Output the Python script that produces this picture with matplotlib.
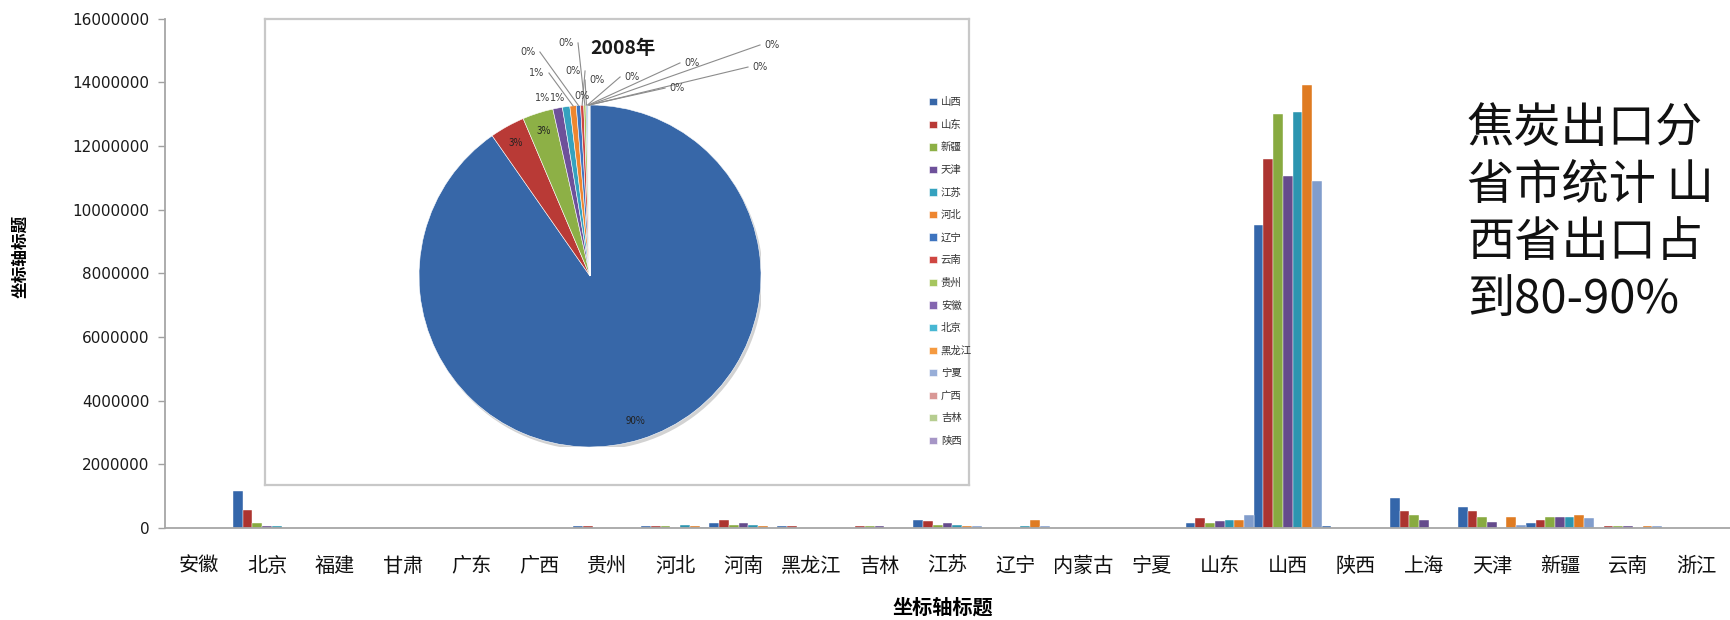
"""
焦炭出口分省市统计: clustered columns per province plus a 2008 pie inset.
"""

import matplotlib
matplotlib.use("Agg")
import matplotlib.pyplot as plt
import numpy as np
from matplotlib.patches import Circle

plt.rcParams["font.family"] = ["Noto Sans CJK SC", "DejaVu Sans"]

# ---------------------------------------------------------------------------
# Data
# ---------------------------------------------------------------------------

provinces = ["安徽", "北京", "福建", "甘肃", "广东", "广西", "贵州", "河北",
             "河南", "黑龙江", "吉林", "江苏", "辽宁", "内蒙古", "宁夏", "山东",
             "山西", "陕西", "上海", "天津", "新疆", "云南", "浙江"]

# seven series (one per year), values in tonnes, in province order above
series_1 = [0, 1160000, 0, 0, 0, 0, 50000, 50000, 160000, 50000, 0, 260000,
            0, 0, 0, 150000, 9530000, 50000, 940000, 670000, 150000, 0, 0]
series_2 = [0, 550000, 0, 0, 0, 0, 50000, 50000, 260000, 50000, 50000, 210000,
            0, 0, 0, 310000, 11590000, 0, 530000, 530000, 260000, 50000, 0]
series_3 = [0, 160000, 0, 0, 0, 0, 0, 50000, 100000, 0, 50000, 100000,
            0, 0, 0, 150000, 13000000, 0, 410000, 360000, 360000, 50000, 0]
series_4 = [0, 50000, 0, 0, 0, 0, 0, 0, 160000, 0, 50000, 150000,
            0, 0, 0, 210000, 11050000, 0, 250000, 200000, 360000, 50000, 0]
series_5 = [0, 50000, 0, 0, 0, 0, 0, 100000, 100000, 0, 0, 100000,
            50000, 0, 0, 260000, 13070000, 0, 0, 0, 360000, 0, 0]
series_6 = [0, 0, 0, 0, 0, 0, 0, 50000, 50000, 0, 0, 50000,
            260000, 0, 0, 260000, 13910000, 0, 0, 360000, 410000, 50000, 0]
series_7 = [0, 0, 0, 0, 0, 0, 0, 30000, 0, 0, 0, 50000,
            50000, 0, 0, 410000, 10890000, 0, 0, 100000, 310000, 50000, 0]
all_series = [series_1, series_2, series_3, series_4, series_5, series_6, series_7]
bar_colors = ["#3466AA", "#AC3430", "#88AA40", "#654B8C", "#2C95B0", "#DF7B22", "#819DCC"]

yticks = list(range(0, 16000001, 2000000))

# 2008 pie (percent share)
pie_labels = ["山西", "山东", "新疆", "天津", "江苏", "河北", "辽宁", "云南",
              "贵州", "安徽", "北京", "黑龙江", "宁夏", "广西", "吉林", "陕西"]
pie_values = [90.2, 3.3, 2.9, 0.9, 0.7, 0.6, 0.4, 0.3,
              0.2, 0.1, 0.1, 0.05, 0.05, 0.03, 0.03, 0.02]
pie_colors = ["#3767A8", "#B93A36", "#8DB046", "#6E519A", "#35A2BF", "#EE8630",
              "#3E74BF", "#CF4641", "#A6C65F", "#8466B0", "#47B7D3", "#F59A40",
              "#98AED8", "#D99896", "#B6CD90", "#A696C6"]

# where Excel pushed the labels of the thin slices (pie radius = 1)
small_label_pos = [(-0.275, 1.041), (-0.190, 1.041), (-0.310, 1.187), (-0.363, 1.310),
                   (-0.099, 1.199), (-0.140, 1.363), (0.041, 1.146), (0.246, 1.164),
                   (0.596, 1.246), (0.509, 1.099), (1.064, 1.351), (0.994, 1.222),
                   (-0.045, 1.050)]

side_text = ["焦炭出口分", "省市统计 山", "西省出口占", "到80-90%"]

# ---------------------------------------------------------------------------
# Figure
# ---------------------------------------------------------------------------

W, H = 1730, 620
fig = plt.figure(figsize=(W / 100, H / 100), dpi=100)


def px(x0, y0, x1, y1):
    """pixel box (top-left origin) -> figure fraction rect"""
    return [x0 / W, 1 - y1 / H, (x1 - x0) / W, (y1 - y0) / H]


ax = fig.add_axes(px(165, 18.8, 1730, 528))
n = len(all_series)
x = np.arange(len(provinces))
for i, (vals, col) in enumerate(zip(all_series, bar_colors)):
    ax.bar(x - 0.5 + (i + 0.5) / n, vals, width=1 / n, color=col,
           edgecolor="#FFFFFF", linewidth=0.3)

ax.set_xlim(-0.5, len(provinces) - 0.5)
ax.set_ylim(0, 16000000)
ax.set_yticks(yticks)
ax.set_yticklabels([str(v) for v in yticks], family="DejaVu Sans",
                   fontsize=11, color="#1A1A1A")
ax.set_xticks(x)
ax.set_xticklabels(provinces, fontsize=14.5, color="#111111")
ax.tick_params(axis="x", length=0, pad=20)
ax.tick_params(axis="y", length=5, width=1, color="#A0A0A0", pad=6)
for s in ("top", "right"):
    ax.spines[s].set_visible(False)
for s in ("left", "bottom"):
    ax.spines[s].set_color("#A6A6A6")
    ax.spines[s].set_linewidth(1.3)

fig.text(20 / W, 1 - 256 / H, "坐标轴标题", rotation=90, ha="center", va="center",
         fontsize=12, fontweight="bold")
fig.text(943 / W, 1 - 607 / H, "坐标轴标题", ha="center", va="center",
         fontsize=14.5, fontweight="bold")

# right-hand note
for k, line in enumerate(side_text):
    fig.text(1467 / W, 1 - (129 + 57 * k) / H, line, ha="left", va="center",
             fontsize=34, color="#111111")

# ---------------------------------------------------------------------------
# Pie inset
# ---------------------------------------------------------------------------

box = fig.add_axes(px(265, 19, 969, 485))
box.set_xticks([])
box.set_yticks([])
for s in box.spines.values():
    s.set_color("#C8C8C8")
    s.set_linewidth(1.6)

R = 171
cx, cy = 590, 276
ax_pie = fig.add_axes(px(cx - R, cy - R, cx + R, cy + R))
ax_pie.axis("off")
ax_pie.add_patch(Circle((0.012, -0.018), 1.0, color="#808080", alpha=0.35, lw=0))
wedges, _ = ax_pie.pie(pie_values, colors=pie_colors, startangle=90,
                       counterclock=False, radius=1,
                       wedgeprops=dict(edgecolor="#FFFFFF", linewidth=0.4))
ax_pie.set_xlim(-1, 1)
ax_pie.set_ylim(-1, 1)

total = sum(pie_values)
small_k = 0
for w, v in zip(wedges, pie_values):
    mid = np.deg2rad((w.theta1 + w.theta2) / 2)
    pct = f"{v / total * 100:.0f}%"
    if v >= 2:
        ax_pie.text(0.89 * np.cos(mid), 0.89 * np.sin(mid), pct, ha="center",
                    va="center", fontsize=7, color="#222222")
        continue
    lx, ly = small_label_pos[small_k]
    small_k += 1
    ex, ey = np.cos(mid), np.sin(mid)
    ax_pie.text(lx, ly, pct, ha="center", va="center", fontsize=7,
                color="#404040", family="DejaVu Sans")
    if np.hypot(lx - ex, ly - ey) > 0.12:
        sx = lx + 0.07 if lx < ex else lx - 0.07
        ax_pie.plot([sx, ex], [ly, ey], color="#8C8C8C", lw=0.8, clip_on=False)

ax_pie.text(0.193, 1.333, "2008年", ha="center", va="center", fontsize=14,
            fontweight="bold", color="#1A1A1A")

ax_pie.legend(wedges, pie_labels, loc="upper left",
              bbox_to_anchor=(920 / W, 1 - 88 / H), bbox_transform=fig.transFigure,
              frameon=False, fontsize=7.5, labelspacing=1.2, handlelength=0.7,
              handleheight=0.7, handletextpad=0.4, labelcolor="#333333")

fig.savefig("out.png", dpi=100)
